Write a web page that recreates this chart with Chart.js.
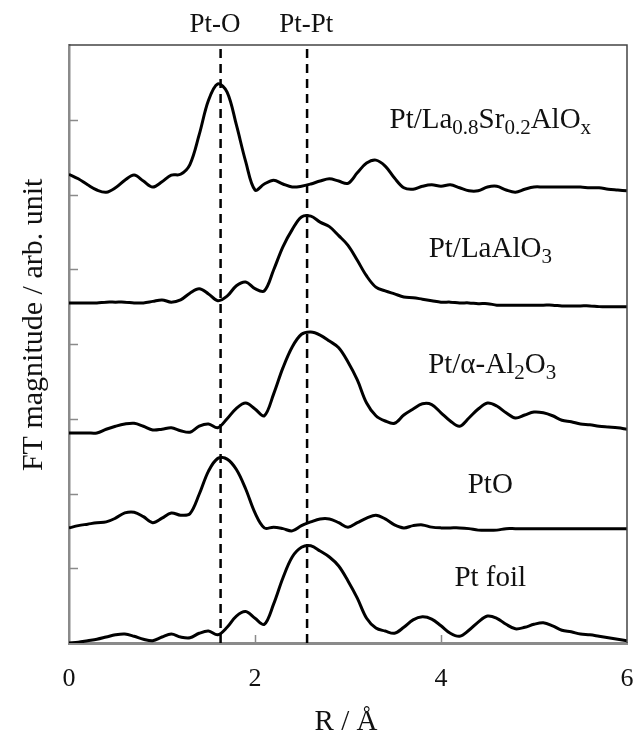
<!DOCTYPE html>
<html>
<head>
<meta charset="utf-8">
<script src="https://cdn.jsdelivr.net/npm/chart.js@4.4.1/dist/chart.umd.min.js"></script>
<style>
  html, body { margin: 0; padding: 0; background: #fff; }
  #wrap { width: 636px; height: 737px; }
</style>
</head>
<body>
<div id="wrap"><canvas id="canvas"></canvas></div>
<script>
// R grid (Å) shared by all spectra
var r = [0.0, 0.1, 0.2, 0.3, 0.4, 0.5, 0.6, 0.7, 0.8, 0.9,
         1.0, 1.1, 1.2, 1.3, 1.4, 1.5, 1.6, 1.7, 1.8, 1.9,
         2.0, 2.1, 2.2, 2.3, 2.4, 2.5, 2.6, 2.7, 2.8, 2.9,
         3.0, 3.1, 3.2, 3.3, 3.4, 3.5, 3.6, 3.7, 3.8, 3.9,
         4.0, 4.1, 4.2, 4.3, 4.4, 4.5, 4.6, 4.7, 4.8, 4.9,
         5.0, 5.1, 5.2, 5.3, 5.4, 5.5, 5.6, 5.7, 5.8, 5.9, 6.0];

// FT magnitudes, already stacked with offsets
var ptLaSrAlOx = [6.27, 6.21, 6.13, 6.06, 6.03, 6.09, 6.19, 6.26, 6.18, 6.10,
                  6.17, 6.26, 6.27, 6.40, 6.80, 7.26, 7.48, 7.37, 6.93, 6.44,
                  6.06, 6.14, 6.19, 6.14, 6.10, 6.11, 6.14, 6.18, 6.21, 6.18,
                  6.15, 6.29, 6.42, 6.46, 6.38, 6.22, 6.09, 6.07, 6.11, 6.13,
                  6.11, 6.13, 6.09, 6.05, 6.05, 6.10, 6.11, 6.06, 6.03, 6.07,
                  6.10, 6.10, 6.10, 6.10, 6.10, 6.10, 6.09, 6.09, 6.07, 6.06, 6.05];
var ptLaAlO3 = [4.55, 4.55, 4.55, 4.55, 4.56, 4.56, 4.56, 4.55, 4.55, 4.57,
                4.59, 4.56, 4.59, 4.68, 4.74, 4.67, 4.58, 4.64, 4.78, 4.83,
                4.74, 4.71, 4.99, 5.30, 5.53, 5.70, 5.71, 5.63, 5.57, 5.45,
                5.32, 5.12, 4.91, 4.76, 4.71, 4.67, 4.63, 4.62, 4.60, 4.58,
                4.56, 4.56, 4.55, 4.55, 4.54, 4.54, 4.52, 4.52, 4.52, 4.52,
                4.52, 4.52, 4.52, 4.51, 4.51, 4.51, 4.51, 4.50, 4.50, 4.50, 4.50];
var ptAl2O3 = [2.81, 2.81, 2.81, 2.81, 2.86, 2.90, 2.93, 2.94, 2.90, 2.85,
               2.86, 2.88, 2.84, 2.82, 2.90, 2.93, 2.88, 3.00, 3.14, 3.21,
               3.13, 3.04, 3.33, 3.68, 3.96, 4.13, 4.16, 4.12, 4.04, 3.95,
               3.76, 3.52, 3.21, 3.04, 2.97, 2.94, 3.05, 3.13, 3.20, 3.19,
               3.08, 2.97, 2.90, 3.01, 3.13, 3.21, 3.17, 3.08, 3.01, 3.05,
               3.09, 3.08, 3.04, 2.98, 2.96, 2.93, 2.92, 2.90, 2.89, 2.88, 2.86];
var ptO = [1.54, 1.57, 1.59, 1.61, 1.62, 1.67, 1.74, 1.75, 1.69, 1.61,
           1.67, 1.74, 1.71, 1.73, 1.99, 2.30, 2.47, 2.46, 2.32, 2.06,
           1.74, 1.54, 1.55, 1.53, 1.50, 1.57, 1.62, 1.66, 1.66, 1.61,
           1.55, 1.61, 1.67, 1.71, 1.66, 1.58, 1.54, 1.57, 1.58, 1.55,
           1.54, 1.54, 1.54, 1.53, 1.51, 1.51, 1.51, 1.53, 1.53, 1.53,
           1.53, 1.53, 1.53, 1.53, 1.53, 1.53, 1.53, 1.53, 1.53, 1.53, 1.53];
var ptFoil = [0.00, 0.01, 0.03, 0.05, 0.08, 0.11, 0.12, 0.09, 0.05, 0.03,
              0.08, 0.12, 0.08, 0.07, 0.13, 0.16, 0.11, 0.21, 0.36, 0.42,
              0.33, 0.25, 0.52, 0.87, 1.15, 1.28, 1.30, 1.23, 1.15, 1.03,
              0.83, 0.60, 0.33, 0.20, 0.16, 0.13, 0.21, 0.31, 0.35, 0.32,
              0.23, 0.13, 0.09, 0.17, 0.28, 0.36, 0.33, 0.25, 0.19, 0.21,
              0.25, 0.27, 0.23, 0.17, 0.15, 0.12, 0.11, 0.09, 0.07, 0.05, 0.03];

// sample names ("_{..}" marks a subscript)
var curveLabels = ['Pt/La_{0.8}Sr_{0.2}AlO_{x}', 'Pt/LaAlO_{3}', 'Pt/\u03b1-Al_{2}O_{3}', 'PtO', 'Pt foil'];
var labelR = [4.53, 4.53, 4.55, 4.53, 4.53];
var labelY = [6.89, 5.16, 3.61, 2.01, 0.76];

// scattering shells
var shellNames = ['Pt-O', 'Pt-Pt'];
var shellR = [1.63, 2.56];
var shellLabelR = [1.57, 2.55];
var shellLabelY = 8.17;

var serif = '"Liberation Serif", "Times New Roman", serif';

function toPoints(ys) {
    return ys.map(function(y, i){ return {x: r[i], y: y}; });
}

var series = [ptLaSrAlOx, ptLaAlO3, ptAl2O3, ptO, ptFoil];
var datasets = series.map(function(ys){
    return {
        data: toPoints(ys),
        borderColor: '#000',
        borderWidth: 3,
        pointRadius: 0,
        tension: 0.35,
        fill: false
    };
});
shellR.forEach(function(x){
    datasets.push({
        data: [{x: x, y: 0}, {x: x, y: 8}],
        borderColor: '#000',
        borderWidth: 2.5,
        borderDash: [9, 6],
        pointRadius: 0,
        fill: false
    });
});

// text with subscripts, centred on cx, baseline at by
function drawRich(ctx, str, cx, by, size) {
    var parts = [];
    str.replace(/([^_]+)|_\{([^}]*)\}/g, function(m, normal, sub){
        parts.push(normal !== undefined ? {t: normal, sub: false} : {t: sub, sub: true});
        return m;
    });
    var subSize = Math.round(size * 0.72);
    var total = 0;
    parts.forEach(function(p){
        ctx.font = (p.sub ? subSize : size) + 'px ' + serif;
        p.w = ctx.measureText(p.t).width;
        total += p.w;
    });
    var x = cx - total / 2;
    ctx.textAlign = 'left';
    ctx.textBaseline = 'alphabetic';
    parts.forEach(function(p){
        ctx.font = (p.sub ? subSize : size) + 'px ' + serif;
        ctx.fillText(p.t, x, p.sub ? by + 6 : by);
        x += p.w;
    });
}

var figureText = {
    id: 'figureText',
    afterDraw: function(chart){
        var ctx = chart.ctx;
        var a = chart.chartArea;
        var xs = chart.scales.x, ys = chart.scales.y;
        ctx.save();

        // top and right frame
        ctx.strokeStyle = '#444';
        ctx.lineWidth = 1.5;
        ctx.beginPath();
        ctx.moveTo(a.left, a.top);
        ctx.lineTo(a.right, a.top);
        ctx.lineTo(a.right, a.bottom);
        ctx.stroke();

        // inward tick marks
        ctx.strokeStyle = '#8a8a8a';
        ctx.lineWidth = 1.5;
        ctx.beginPath();
        ys.ticks.forEach(function(t){
            if (t.value <= 0 || t.value >= 8) return;
            var py = Math.round(ys.getPixelForValue(t.value)) + 0.5;
            ctx.moveTo(a.left, py);
            ctx.lineTo(a.left + 9, py);
        });
        xs.ticks.forEach(function(t){
            if (t.value <= 0 || t.value >= 6) return;
            var px = Math.round(xs.getPixelForValue(t.value)) + 0.5;
            ctx.moveTo(px, a.bottom);
            ctx.lineTo(px, a.bottom - 8);
        });
        ctx.stroke();

        ctx.fillStyle = '#111';
        curveLabels.forEach(function(s, i){
            drawRich(ctx, s, xs.getPixelForValue(labelR[i]), ys.getPixelForValue(labelY[i]), 29);
        });
        shellNames.forEach(function(s, i){
            drawRich(ctx, s, xs.getPixelForValue(shellLabelR[i]), ys.getPixelForValue(shellLabelY), 27);
        });

        // axis titles
        drawRich(ctx, 'R / \u00c5', (a.left + a.right) / 2 - 2, chart.height - 7, 29);
        ctx.translate(42, a.top + (a.bottom - a.top) * 0.468);
        ctx.rotate(-Math.PI / 2);
        ctx.font = '30px ' + serif;
        ctx.textAlign = 'center';
        ctx.textBaseline = 'alphabetic';
        ctx.fillText('FT magnitude / arb. unit', 0, 0);
        ctx.restore();
    }
};

var ctx = document.getElementById('canvas').getContext('2d');
var myChart = new Chart(ctx, {
    type: 'line',
    data: { datasets: datasets },
    plugins: [figureText],
    options: {
        responsive: true,
        maintainAspectRatio: false,
        animation: false,
        events: [],
        layout: { padding: { top: 45, right: 9, left: 0, bottom: 0 } },
        plugins: {
            legend: { display: false },
            tooltip: { enabled: false }
        },
        scales: {
            x: {
                type: 'linear',
                min: 0,
                max: 6,
                grid: { display: false, drawTicks: false },
                border: { color: '#8a8a8a', width: 3 },
                ticks: {
                    stepSize: 2,
                    padding: 21,
                    color: '#111',
                    font: { family: serif, size: 26 }
                },
                afterFit: function(scale){
                    scale.height = 94;
                    scale.paddingLeft = 0;
                    scale.paddingRight = 0;
                }
            },
            y: {
                type: 'linear',
                min: 0,
                max: 8,
                grid: { display: false, drawTicks: false },
                border: { color: '#8a8a8a', width: 2.5 },
                ticks: { stepSize: 1, display: false },
                afterFit: function(scale){
                    scale.width = 69;
                    scale.paddingTop = 0;
                    scale.paddingBottom = 0;
                }
            }
        }
    }
});
</script>
</body>
</html>
